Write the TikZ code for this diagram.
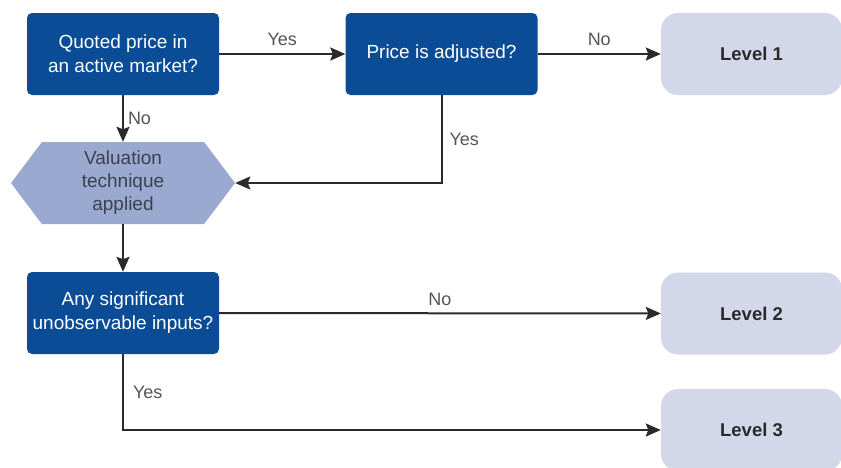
\documentclass[tikz,border=0pt]{standalone}
\usepackage{fontspec}
\setmainfont{Liberation Sans}
\usetikzlibrary{shapes.symbols,arrows.meta}
\definecolor{dblue}{HTML}{0B4C97}
\definecolor{hexfill}{HTML}{9AA9D0}
\definecolor{lvlfill}{HTML}{D2D7E9}
\definecolor{linec}{HTML}{2A2A2A}
\definecolor{lblc}{HTML}{555555}
\definecolor{hextext}{HTML}{3C4150}
\definecolor{lvltext}{HTML}{2A2A2A}
\begin{document}
\begin{tikzpicture}[x=1pt,y=-1pt,
  qbox/.style={draw=none,fill=dblue,rounded corners=5pt,minimum width=192pt,minimum height=82pt,
     text=white,align=center,font=\fontsize{19}{24}\selectfont,inner sep=0pt},
  lvlbox/.style={draw=none,fill=lvlfill,rounded corners=17pt,minimum width=181pt,minimum height=82pt,
     text=lvltext,font=\fontsize{18.5}{22}\selectfont\bfseries,inner sep=0pt},
  hexbox/.style={shape=signal,signal to=west and east,signal pointer angle=106,fill=hexfill,draw=none,
     minimum width=224pt,minimum height=82pt,inner sep=0pt,text=hextext,align=center,
     font=\fontsize{19}{23}\selectfont},
  conn/.style={draw=linec,line width=2pt,-{Stealth[length=15pt,width=13pt,inset=2.5pt]}},
  lbl/.style={text=lblc,font=\fontsize{18}{21}\selectfont,inner sep=0pt}]
\useasboundingbox (0,0) rectangle (841,467);
\node[qbox] (a) at (123,54) {Quoted price in\\an active market?};
\node[qbox] (b) at (441.5,54) {Price is adjusted?};
\node[lvlbox] (l1) at (751.5,54) {Level 1};
\node[hexbox] (h) at (123,183) {Valuation\\technique\\applied};
\node[qbox] (c) at (123,313) {Any significant\\unobservable inputs?};
\node[lvlbox] (l2) at (751.5,313.5) {Level 2};
\node[lvlbox] (l3) at (751.5,430) {Level 3};
\coordinate (bturn) at (b.south |- h.east);
\coordinate (cturn) at (c.south |- l3.west);
\draw[conn] (a) -- node[lbl,above=7pt] {Yes} (b);
\draw[conn] (b) -- node[lbl,above=7pt] {No} (l1);
\draw[conn] (a) -- node[lbl,right=4pt] {No} (h.north);
\draw[conn] (b.south) -- node[lbl,right=7pt] {Yes} (bturn) -- (h.east);
\draw[conn] (h.south) -- (c);
\draw[conn] (c) -- node[lbl,above=7pt] {No} (l2);
\draw[conn] (c.south) -- node[lbl,right=9pt,pos=0.5] {Yes} (cturn) -- (l3.west);
\end{tikzpicture}
\end{document}
